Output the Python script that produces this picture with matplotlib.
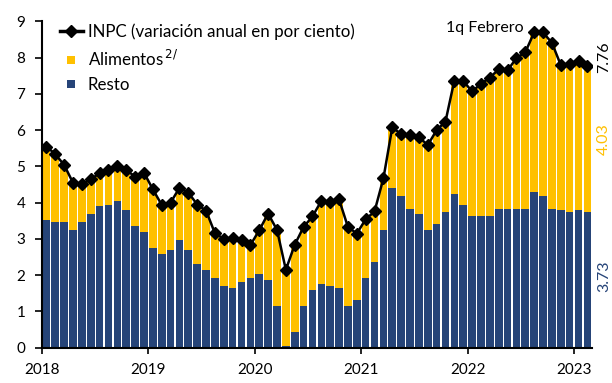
import numpy as np
import matplotlib

matplotlib.use("Agg")
import matplotlib.pyplot as plt
from matplotlib.lines import Line2D
from matplotlib.transforms import ScaledTranslation, blended_transform_factory

plt.rcParams["font.family"] = ["Lato", "DejaVu Sans"]

# ------------------------------------------------------------
# Monthly data, Jan 2018 - Feb 2023 (last point: 1q Febrero)
# ------------------------------------------------------------
inpc = [5.55, 5.34, 5.04, 4.55, 4.51, 4.65, 4.81, 4.90, 5.02, 4.90, 4.72, 4.83,
        4.37, 3.94, 4.00, 4.41, 4.28, 3.95, 3.78, 3.16, 3.00, 3.02, 2.97, 2.83,
        3.24, 3.70, 3.25, 2.15, 2.84, 3.33, 3.62, 4.05, 4.01, 4.09, 3.33, 3.15,
        3.54, 3.76, 4.67, 6.08, 5.89, 5.88, 5.81, 5.59, 6.00, 6.24, 7.37, 7.36,
        7.07, 7.28, 7.45, 7.68, 7.65, 7.99, 8.15, 8.70, 8.70, 8.41, 7.80, 7.82,
        7.91, 7.76]

resto = [3.53, 3.47, 3.47, 3.25, 3.47, 3.69, 3.91, 3.95, 4.06, 3.80, 3.36, 3.19,
         2.75, 2.58, 2.69, 2.97, 2.69, 2.31, 2.14, 1.93, 1.71, 1.66, 1.82, 1.93,
         2.04, 1.88, 1.16, 0.06, 0.44, 1.16, 1.60, 1.77, 1.71, 1.66, 1.16, 1.32,
         1.93, 2.37, 3.25, 4.40, 4.19, 3.84, 3.69, 3.25, 3.41, 3.74, 4.23, 3.95,
         3.63, 3.63, 3.63, 3.84, 3.84, 3.84, 3.84, 4.29, 4.18, 3.84, 3.80, 3.74,
         3.80, 3.73]

alimentos = [2.02, 1.87, 1.57, 1.30, 1.04, 0.96, 0.90, 0.95, 0.96, 1.10, 1.36, 1.64,
             1.62, 1.36, 1.31, 1.44, 1.59, 1.64, 1.64, 1.23, 1.29, 1.36, 1.15, 0.90,
             1.20, 1.82, 2.09, 2.09, 2.40, 2.17, 2.02, 2.28, 2.30, 2.43, 2.17, 1.83,
             1.61, 1.39, 1.42, 1.68, 1.70, 2.04, 2.12, 2.34, 2.59, 2.50, 3.14, 3.41,
             3.44, 3.65, 3.82, 3.84, 3.81, 4.15, 4.31, 4.41, 4.52, 4.57, 4.00, 4.08,
             4.11, 4.03]

years = ["2018", "2019", "2020", "2021", "2022", "2023"]

BLUE = "#264478"
YELLOW = "#FFC000"

x = np.arange(len(inpc))

fig = plt.figure(figsize=(6.12, 3.83), dpi=100)
ax = fig.add_axes([0.0686, 0.0922, 0.8984, 0.8517])

ax.bar(x, resto, width=0.86, color=BLUE, linewidth=0)
ax.bar(x, alimentos, width=0.86, bottom=resto, color=YELLOW, linewidth=0)
ax.plot(x, inpc, color="black", linewidth=1.8, marker="D", markersize=6,
        zorder=3)

ax.set_xlim(-0.5, len(inpc) - 0.5)
ax.set_ylim(0, 9)
ax.set_yticks(range(0, 10))

# year ticks sit on the January boundary, labels nudged to the right
ax.set_xticks(np.arange(len(years)) * 12 - 0.5)
ax.set_xticklabels(years)
shift = ScaledTranslation(5 / 100, 0, fig.dpi_scale_trans)
for lbl in ax.get_xticklabels():
    lbl.set_transform(lbl.get_transform() + shift)

ax.tick_params(axis="both", labelsize=11, colors="black", width=1.2)
ax.tick_params(axis="y", length=5, pad=7)
ax.tick_params(axis="x", length=4, pad=7)

for side in ("top", "right"):
    ax.spines[side].set_visible(False)
for side in ("left", "bottom"):
    ax.spines[side].set_linewidth(1.5)

handles = [
    Line2D([], [], color="black", linewidth=2.5, marker="D", markersize=6.5),
    Line2D([], [], linestyle="none", marker="s", markersize=6,
           markerfacecolor=YELLOW, markeredgewidth=0),
    Line2D([], [], linestyle="none", marker="s", markersize=6,
           markerfacecolor=BLUE, markeredgewidth=0),
]
labels = ["INPC (variación anual en por ciento)", r"Alimentos$^{\,2/}$", "Resto"]
ax.legend(handles, labels, loc="upper left", bbox_to_anchor=(0.02, 1.014),
          frameon=False, fontsize=12.2, handlelength=1.35,
          handletextpad=0.3, labelspacing=0.5, borderaxespad=0)

ax.text(53.8, 8.83, "1q Febrero", ha="right", va="center", fontsize=11.5)

# values of the last observation, written vertically at the right edge
last = len(inpc) - 1
tr = blended_transform_factory(ax.transAxes, ax.transData)
ax.text(1.022, inpc[last] + 0.25, f"{inpc[last]:.2f}", transform=tr,
        rotation=90, ha="center", va="center", fontsize=11.5, color="black")
ax.text(1.022, resto[last] + alimentos[last] / 2, f"{alimentos[last]:.2f}",
        transform=tr, rotation=90, ha="center", va="center", fontsize=11.5,
        color=YELLOW)
ax.text(1.022, resto[last] / 2 + 0.1, f"{resto[last]:.2f}", transform=tr,
        rotation=90, ha="center", va="center", fontsize=11.5, color=BLUE)

fig.savefig("out.png", dpi=100)
